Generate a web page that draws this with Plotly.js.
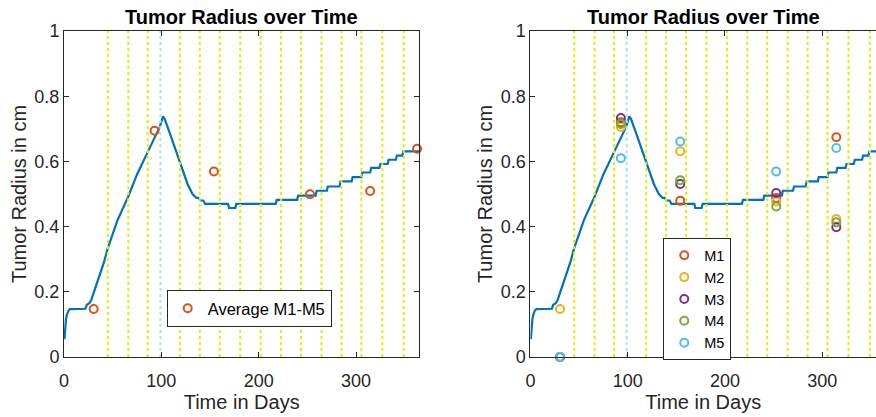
<!DOCTYPE html>
<html>
<head>
<meta charset="utf-8">
<script src="https://cdn.plot.ly/plotly-3.0.1.min.js"></script>
<style>
  html, body { margin: 0; padding: 0; background: #fff; }
  #chart { width: 876px; height: 417px; }
</style>
</head>
<body>
<div id="chart"></div>
<script>
// Simulated tumor radius (cm) over time (days)
const simDays = [0.5, 1.2, 2, 3, 4.5, 6, 22, 23.5, 26, 28, 32, 36.6, 41, 45, 55, 65.7, 75, 86.2, 92, 98.3,
  101.7, 103.5, 110, 117, 122, 127, 132, 136, 138, 140, 143, 145, 168.5, 169.5, 176, 177,
  217.5, 218.5, 239.5, 240.5, 258.5, 259.5, 270, 271, 283, 284, 295.5, 296.5, 305.5, 306.5,
  314.5, 315.5, 324, 325, 332.5, 333.5, 341, 342, 347.5, 348.5, 365];
const simRadius = [0.055, 0.09, 0.115, 0.13, 0.142, 0.147, 0.148, 0.16, 0.165, 0.175, 0.21, 0.247, 0.29, 0.334, 0.42, 0.49, 0.56, 0.63, 0.665, 0.705,
  0.738, 0.73, 0.675, 0.615, 0.57, 0.53, 0.50, 0.488, 0.488, 0.48, 0.48, 0.47, 0.47, 0.457, 0.457, 0.47,
  0.47, 0.482, 0.482, 0.495, 0.495, 0.51, 0.51, 0.523, 0.523, 0.539, 0.539, 0.552, 0.552, 0.566,
  0.566, 0.58, 0.58, 0.592, 0.592, 0.605, 0.605, 0.618, 0.618, 0.631, 0.631];

// Treatment / measurement days
const treatDays = [45, 66, 86, 119, 139.5, 160, 181, 202, 223, 243.5, 264.5, 285, 305.5, 327, 349];
const peakDay = [99];

// Measured radii
const avgDays = [30.5, 93, 154, 252.7, 314.5, 362.7];
const avgRadius = [0.147, 0.694, 0.569, 0.499, 0.509, 0.639];

const measDays = [30.5, 93, 154, 252.7, 314.5];
const m1 = [0, 0.72, 0.479, 0.488, 0.674];
const m2 = [0.147, 0.706, 0.631, 0.477, 0.423];
const m3 = [0, 0.733, 0.531, 0.503, 0.398];
const m4 = [0, 0.715, 0.542, 0.462, 0.413];
const m5 = [0, 0.61, 0.661, 0.569, 0.641];

const seriesNames = ['M1', 'M2', 'M3', 'M4', 'M5'];
const seriesColors = ['#D95319', '#EDB120', '#7E2F8E', '#77AC30', '#4DBEEE'];

const FONT = 'Arial, "Liberation Sans", Helvetica, sans-serif';
const AXIS_COLOR = '#262626';

function vlines(xs) {
  const x = [], y = [];
  xs.forEach(d => { x.push(d, d, null); y.push(0, 1, null); });
  return { x, y };
}

function baseTraces(xa, ya) {
  const yl = vlines(treatDays);
  const cl = vlines(peakDay);
  return [
    { x: simDays, y: simRadius, xaxis: xa, yaxis: ya, type: 'scatter', mode: 'lines',
      line: { color: '#0072BD', width: 2.2 }, showlegend: false, hoverinfo: 'skip' },
    { x: yl.x, y: yl.y, xaxis: xa, yaxis: ya, type: 'scatter', mode: 'lines',
      line: { color: '#E2EE00', width: 2, dash: 'dot' }, showlegend: false, hoverinfo: 'skip' },
    { x: cl.x, y: cl.y, xaxis: xa, yaxis: ya, type: 'scatter', mode: 'lines',
      line: { color: '#A6E4EE', width: 2, dash: 'dot' }, showlegend: false, hoverinfo: 'skip' }
  ];
}

const traces = [];
traces.push(...baseTraces('x', 'y'));
traces.push({
  x: avgDays, y: avgRadius, xaxis: 'x', yaxis: 'y', type: 'scatter', mode: 'markers',
  name: 'Average M1-M5', legend: 'legend', cliponaxis: false,
  marker: { symbol: 'circle-open', size: 8, color: '#D95319', line: { width: 2, color: '#D95319' } }
});

traces.push(...baseTraces('x2', 'y2'));
[m1, m2, m3, m4, m5].forEach((vals, i) => {
  traces.push({
    x: measDays, y: vals, xaxis: 'x2', yaxis: 'y2', type: 'scatter', mode: 'markers',
    name: seriesNames[i], legend: 'legend2', cliponaxis: false,
    marker: { symbol: 'circle-open', size: 8, color: seriesColors[i], line: { width: 2, color: seriesColors[i] } }
  });
});

function xAxis(domain, range, anchor, mirror) {
  return {
    domain, range, anchor, mirror,
    showline: true, linecolor: AXIS_COLOR, linewidth: 1,
    ticks: 'inside', ticklen: 5, tickcolor: AXIS_COLOR, tickwidth: 1,
    tickvals: [0, 100, 200, 300], ticklabelstandoff: 7,
    tickfont: { family: FONT, size: 18, color: AXIS_COLOR },
    showgrid: false, zeroline: false, automargin: false,
    title: { text: 'Time in Days', font: { family: FONT, size: 20, color: AXIS_COLOR }, standoff: 3 }
  };
}
function yAxis(anchor, mirror) {
  return {
    domain: [0, 1], range: [0, 1], anchor, mirror,
    showline: true, linecolor: AXIS_COLOR, linewidth: 1,
    ticks: 'inside', ticklen: 5, tickcolor: AXIS_COLOR, tickwidth: 1,
    tickvals: [0, 0.2, 0.4, 0.6, 0.8, 1],
    tickfont: { family: FONT, size: 18, color: AXIS_COLOR },
    showgrid: false, zeroline: false, automargin: false,
    title: { text: 'Tumor Radius in cm', font: { family: FONT, size: 20, color: AXIS_COLOR }, standoff: 2 }
  };
}

const titleFont = { family: FONT, size: 20, color: '#000', weight: 'bold' };

const layout = {
  width: 876, height: 417,
  margin: { l: 64, r: 0, t: 31, b: 60 },
  paper_bgcolor: '#fff', plot_bgcolor: '#fff',
  font: { family: FONT, color: AXIS_COLOR },
  xaxis: xAxis([0, 0.4376], [0, 365], 'y', 'ticks'),
  yaxis: yAxis('x', 'ticks'),
  xaxis2: xAxis([0.5744, 1], [0, 355.3], 'y2', 'ticks'),
  yaxis2: yAxis('x2', false),
  annotations: [
    { text: '<b>Tumor Radius over Time</b>', xref: 'x domain', yref: 'paper', x: 0.5, y: 1,
      xanchor: 'center', yanchor: 'bottom', yshift: 1, showarrow: false, font: titleFont },
    { text: '<b>Tumor Radius over Time</b>', xref: 'x2 domain', yref: 'paper', x: 0.5, y: 1,
      xanchor: 'center', yanchor: 'bottom', yshift: 1, showarrow: false, font: titleFont }
  ],
  legend: {
    x: 0.1265, y: 0.2055, xanchor: 'left', yanchor: 'top',
    bgcolor: '#fff', bordercolor: AXIS_COLOR, borderwidth: 1,
    font: { family: FONT, size: 16.5, color: '#000' }
  },
  legend2: {
    x: 0.738, y: 0.364, xanchor: 'left', yanchor: 'top',
    bgcolor: '#fff', bordercolor: AXIS_COLOR, borderwidth: 1,
    font: { family: FONT, size: 14.5, color: '#000' }
  },
  showlegend: true
};

Plotly.newPlot('chart', traces, layout, { staticPlot: true, displayModeBar: false });
</script>
</body>
</html>
